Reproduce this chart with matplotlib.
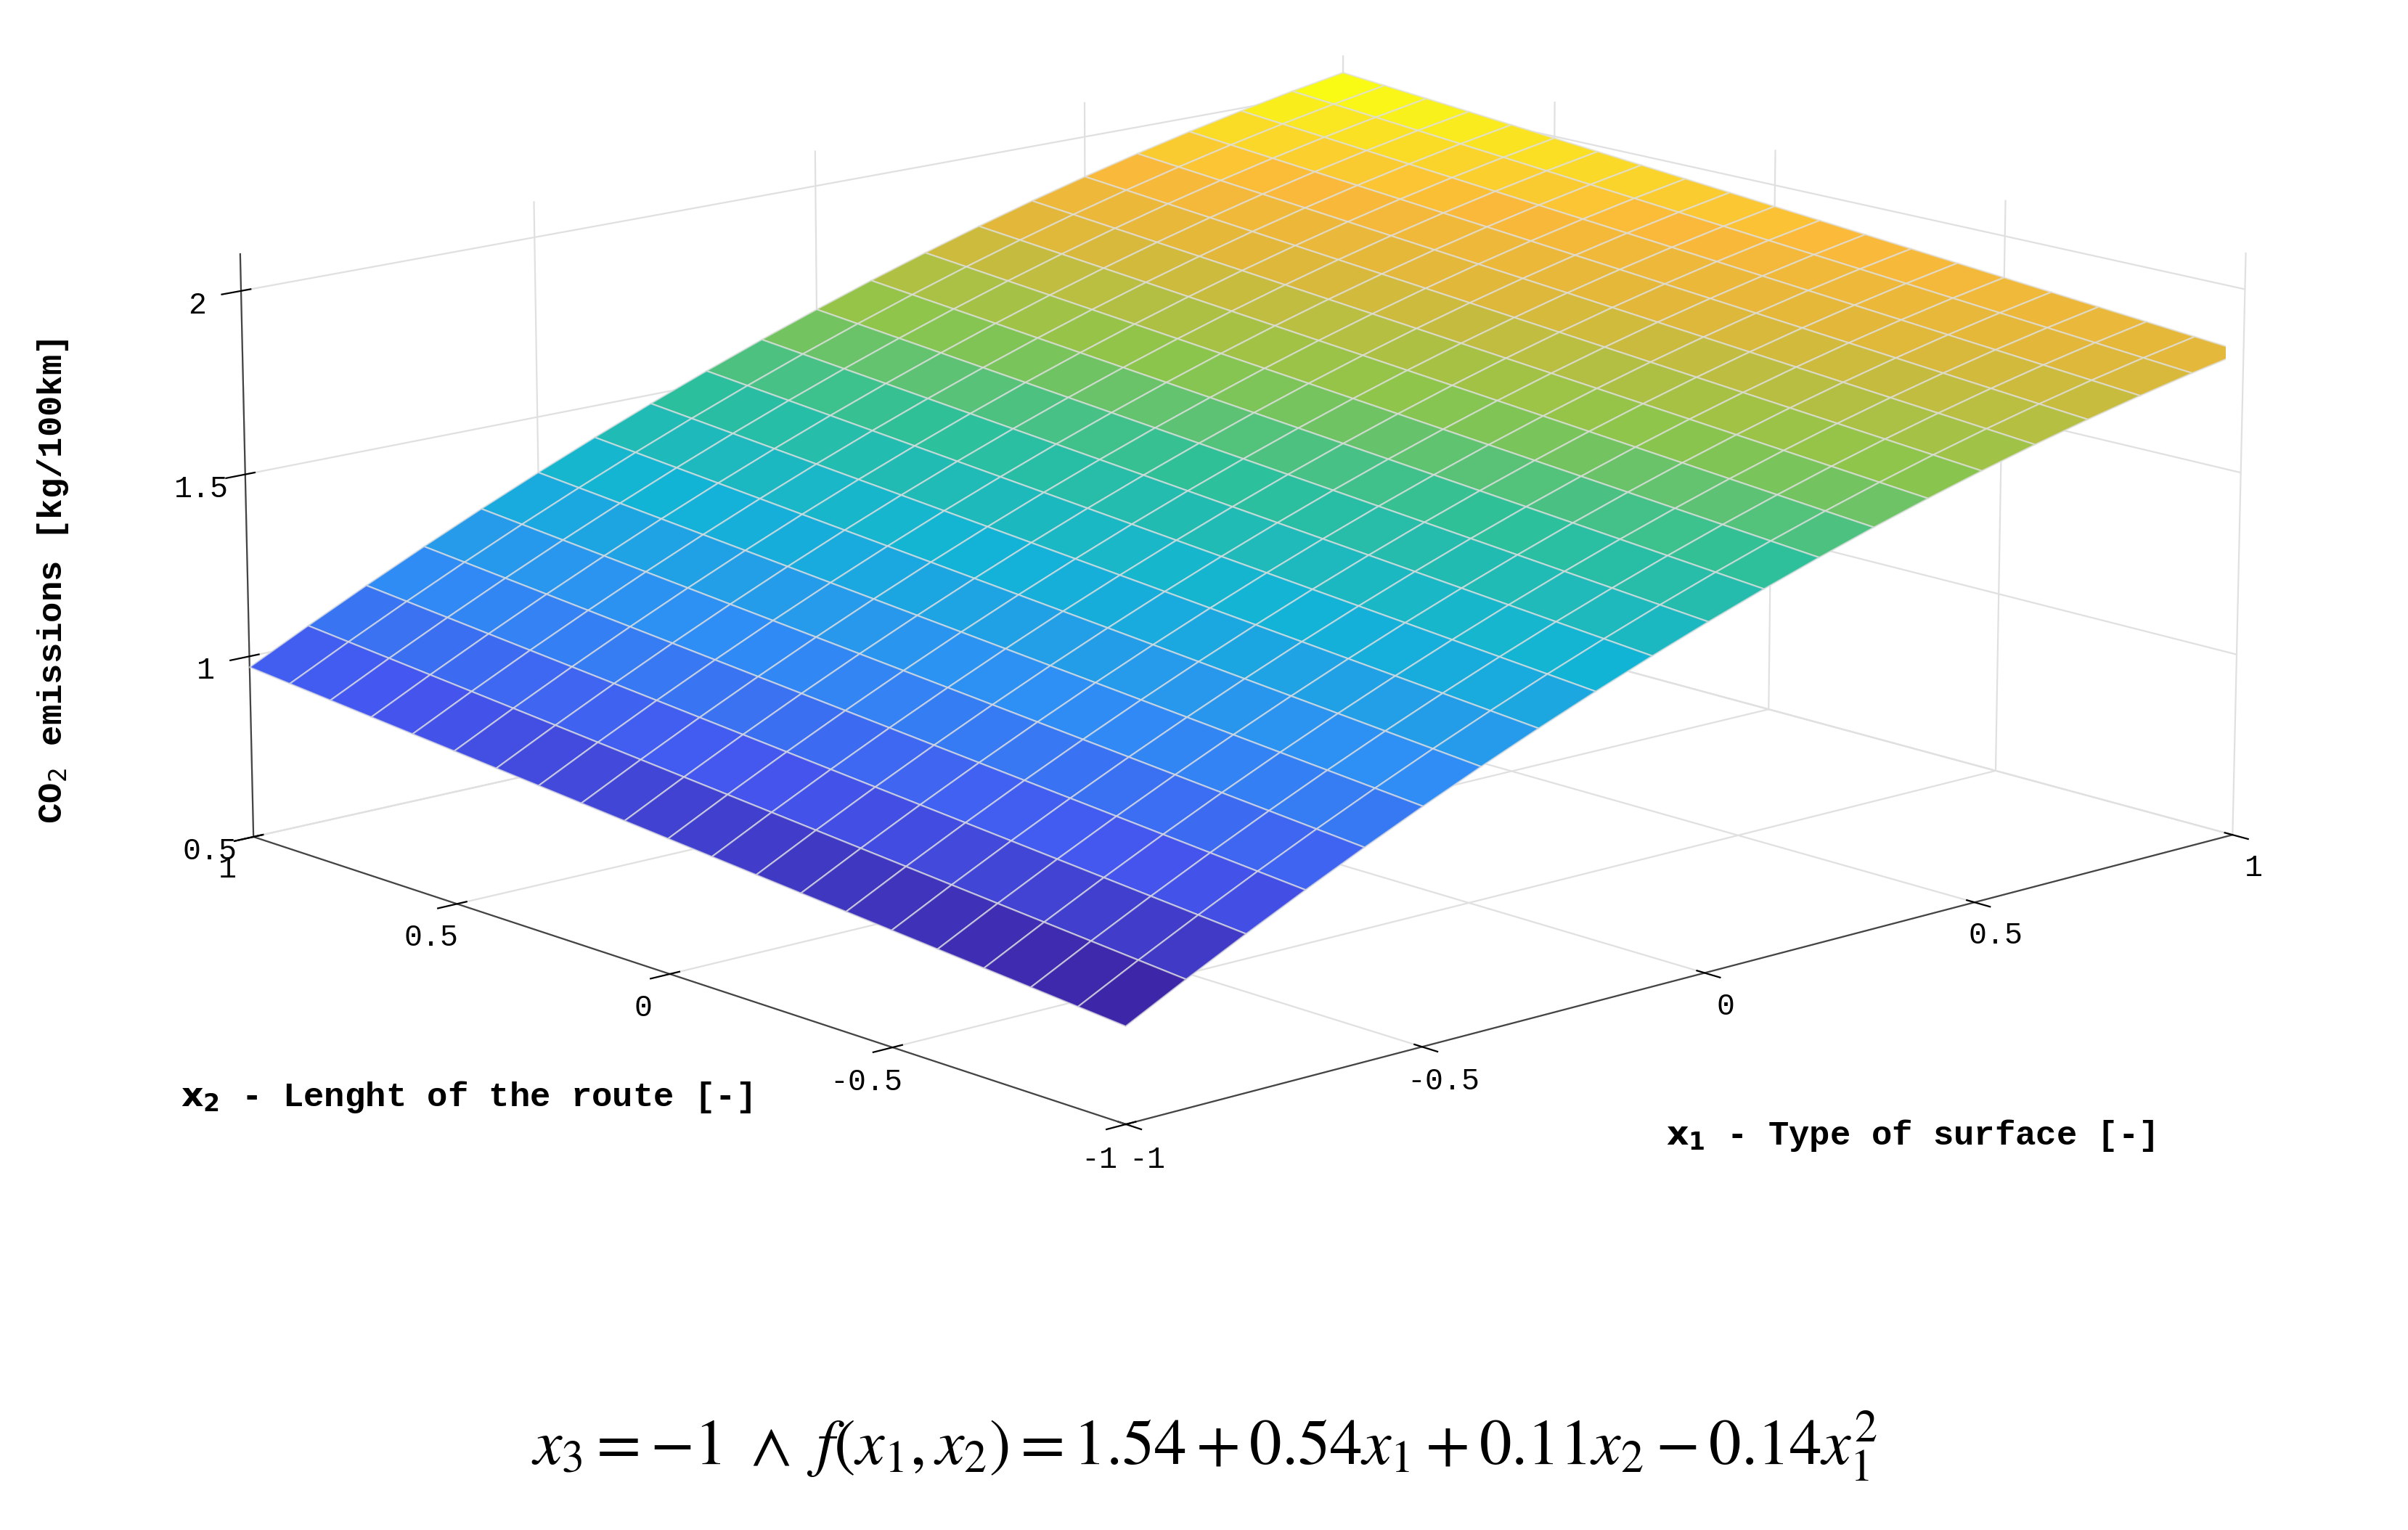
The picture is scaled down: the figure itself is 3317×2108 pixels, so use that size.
import numpy as np
import matplotlib
matplotlib.use("Agg")
import matplotlib.pyplot as plt
from matplotlib.colors import LinearSegmentedColormap

# model coefficients (from the equation in the chart)
c0, c1, c2, c11 = 1.54, 0.54, 0.11, -0.14
x1_ticks = [-1, -0.5, 0, 0.5, 1]
x2_ticks = [-1, -0.5, 0, 0.5, 1]
z_ticks = [0.5, 1, 1.5, 2]
n_grid = 21

parula = LinearSegmentedColormap.from_list("parula", [
    (0.00, "#3e26a8"), (0.15, "#4457f0"), (0.30, "#2f8ef5"),
    (0.45, "#12b4d6"), (0.58, "#2dc09b"), (0.70, "#8ec54a"),
    (0.82, "#e0b83a"), (0.90, "#fbb93a"), (1.00, "#f9fb15")])

x1 = np.linspace(-1, 1, n_grid)
x2 = np.linspace(-1, 1, n_grid)
X1, X2 = np.meshgrid(x1, x2)
Z = c0 + c1 * X1 + c2 * X2 + c11 * X1**2

fig = plt.figure(figsize=(16.585, 10.54), dpi=200)
ax = fig.add_axes([-0.31, -0.035, 1.63, 1.32], projection="3d")
ax.plot_surface(X1, X2, Z, cmap=parula, edgecolor=(0.88, 0.88, 0.88, 0.7),
                linewidth=0.8, antialiased=True, shade=False,
                rstride=1, cstride=1)
ax.view_init(elev=14, azim=-132)
ax.set_xlim(-1, 1); ax.set_ylim(-1, 1); ax.set_zlim(0.5, 2.1)
ax.set_xticks(x1_ticks); ax.set_yticks(x2_ticks); ax.set_zticks(z_ticks)
ax.set_xticklabels([f"{t:g}" for t in x1_ticks])
ax.set_yticklabels([f"{t:g}" for t in x2_ticks])
ax.set_zticklabels([f"{t:g}" for t in z_ticks])
mono = "Liberation Mono"
for lab in ax.get_xticklabels() + ax.get_yticklabels() + ax.get_zticklabels():
    lab.set_fontfamily(mono); lab.set_fontsize(15)
for a in (ax.xaxis, ax.yaxis, ax.zaxis):
    a.set_pane_color((1, 1, 1, 0))
    a._axinfo["grid"]["color"] = (0.88, 0.88, 0.88, 1)
    a._axinfo["grid"]["linewidth"] = 0.8
    a.line.set_color("#444444")
ax.set_box_aspect((2.35, 2.1, 0.95))

fig.text(0.692, 0.258, r"$\mathbf{x_1}$ - Type of surface [-]", family=mono,
         weight="bold", fontsize=17, ha="left", va="center")
fig.text(0.075, 0.283, r"$\mathbf{x_2}$ - Lenght of the route [-]", family=mono,
         weight="bold", fontsize=17, ha="left", va="center")
fig.text(0.022, 0.62, r"CO$_2$ emissions [kg/100km]", family=mono,
         weight="bold", fontsize=17, ha="center", va="center", rotation=90)

plt.rcParams["mathtext.fontset"] = "stix"
fig.text(0.5, 0.055,
         r"$x_3 = -1\ \wedge\ f(x_1, x_2) = 1.54 + 0.54x_1 + 0.11x_2 - 0.14x_1^2$",
         ha="center", va="center", fontsize=32, math_fontfamily="stix")
fig.savefig("out.png", dpi=200, facecolor="white")
